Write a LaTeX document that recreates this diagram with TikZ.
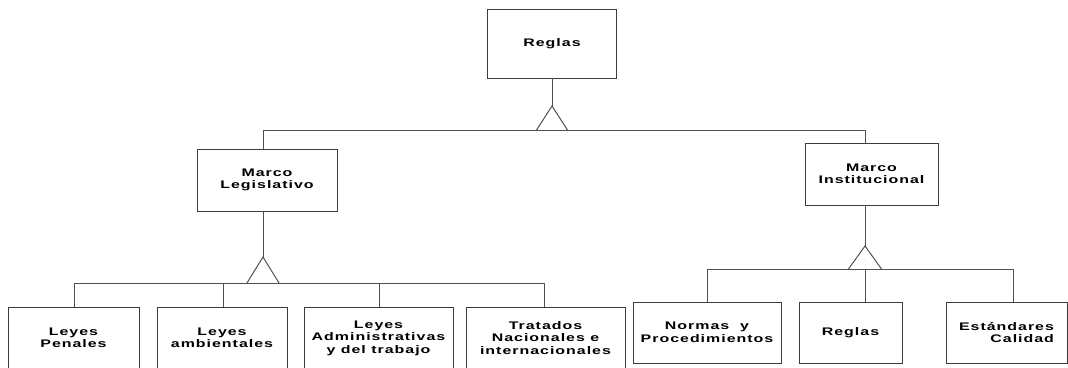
\documentclass[tikz,border=0pt]{standalone}
\usepackage{fontspec}
\setmainfont{Liberation Sans}[BoldFont={Liberation Sans Bold},FakeStretch=1.45,LetterSpace=9]
\definecolor{boxgray}{RGB}{60,60,60}
\definecolor{linegray}{RGB}{80,80,80}
\begin{document}
\begin{tikzpicture}[x=1pt,y=-1pt,line width=1pt,
  box/.style={draw=boxgray,fill=white,rectangle,inner sep=0pt,outer sep=0pt,
    align=center,text=black,font=\fontsize{11}{12.5}\selectfont\bfseries},
  link/.style={draw=linegray}]
\useasboundingbox (0,0) rectangle (1068,367);
\clip (0,0) rectangle (1068,367);

% root
\node[box,minimum width=129pt,minimum height=69pt] (root) at (552,43.5) {Reglas};

% second level
\node[box,minimum width=140pt,minimum height=62pt] (mleg) at (267,180) {Marco\\Legislativo};
\node[box,minimum width=133pt,minimum height=62pt] (minst) at (871.5,174) {Marco\\Institucional};

% legislative children
\node[box,minimum width=131pt,minimum height=62pt] (penales) at (73.5,338) {Leyes\\Penales};
\node[box,minimum width=130pt,minimum height=62pt] (ambient) at (222,338) {Leyes\\ambientales};
\node[box,minimum width=149pt,minimum height=62pt] (admin) at (378.5,338) {Leyes\\Administrativas\\y del trabajo};
\node[box,minimum width=159pt,minimum height=62pt] (tratados) at (545.5,338) {Tratados\\Nacionales e\\internacionales};

% institutional children
\node[box,minimum width=148pt,minimum height=61pt] (normas) at (707,332.5) {Normas\ \ y\\Procedimientos};
\node[box,minimum width=103pt,minimum height=61pt] (reglas) at (850.5,332.5) {Reglas};
\node[box,minimum width=121pt,minimum height=61pt,align=right] (estandar) at (1006.5,332.5) {Estándares\\Calidad};

% first branching
\coordinate (apexA) at (552,106);
\coordinate (barAl) at (263,130);
\coordinate (barAr) at (865,130);
\draw[link] (root.south) -- (apexA);
\draw[link] (536.5,130) -- (apexA) -- (567.5,130);
\draw[link] (barAl) -- (barAr);
\draw[link] (barAl) -- (barAl |- mleg.north);
\draw[link] (barAr) -- (barAr |- minst.north);

% legislative branching
\coordinate (apexB) at (263,257);
\coordinate (barBl) at (74,283);
\coordinate (barBr) at (544,283);
\draw[link] (barAl |- mleg.south) -- (apexB);
\draw[link] (247,283) -- (apexB) -- (279,283);
\draw[link] (barBl) -- (barBr);
\draw[link] (barBl) -- (barBl |- penales.north);
\draw[link] (223,283) -- (223,283 |- ambient.north);
\draw[link] (379,283) -- (379,283 |- admin.north);
\draw[link] (barBr) -- (barBr |- tratados.north);

% institutional branching
\coordinate (apexC) at (865,246);
\coordinate (barCl) at (707,269);
\coordinate (barCm) at (865,269);
\coordinate (barCr) at (1013,269);
\draw[link] (barAr |- minst.south) -- (apexC);
\draw[link] (848.5,269) -- (apexC) -- (881.5,269);
\draw[link] (barCl) -- (barCr);
\draw[link] (barCl) -- (barCl |- normas.north);
\draw[link] (barCm) -- (barCm |- reglas.north);
\draw[link] (barCr) -- (barCr |- estandar.north);
\end{tikzpicture}
\end{document}
